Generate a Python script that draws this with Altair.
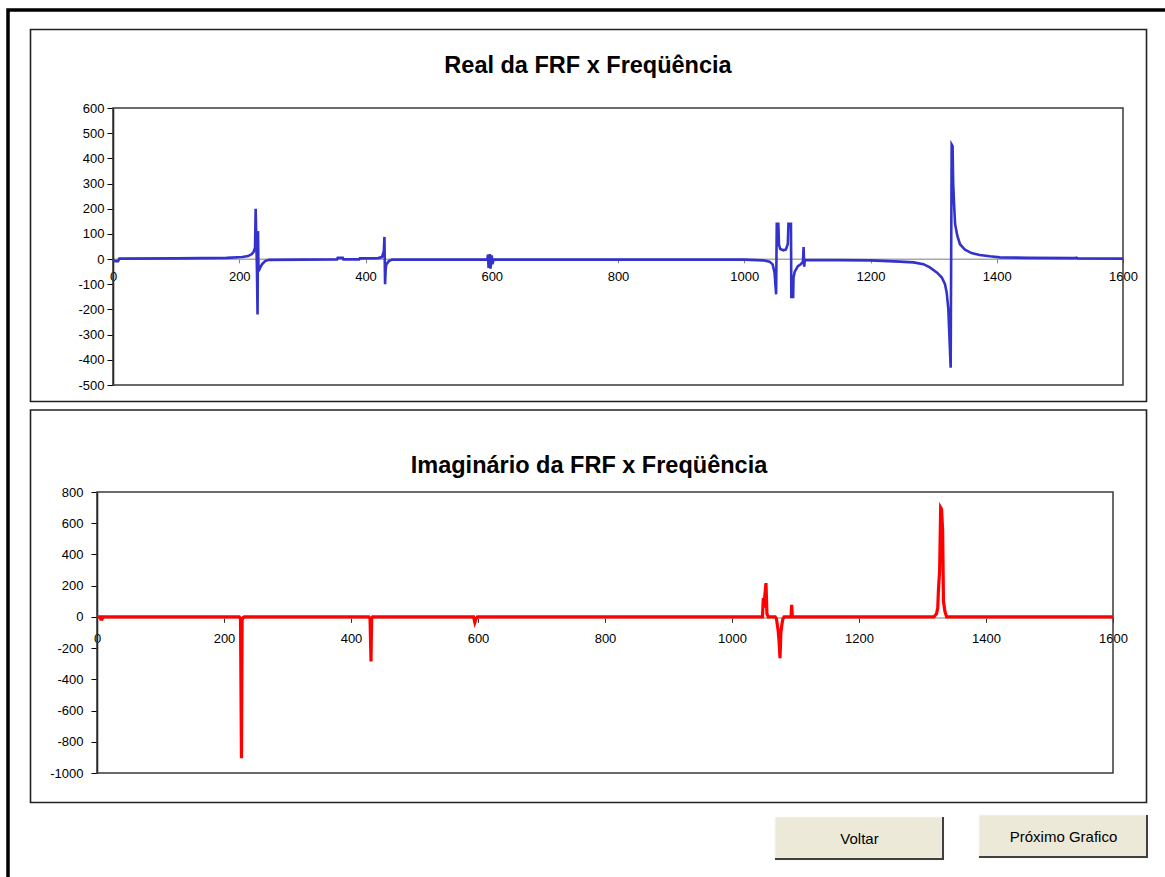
import altair as alt
import pandas as pd

# ---------------- data ----------------
real_freq = [0, 3, 8, 10, 100, 180, 205, 214, 220, 223, 225, 226, 227, 228, 229, 229.7, 230.5,
             233, 236, 241, 247, 300, 355, 356, 364, 365, 390, 391, 420, 426, 429, 430, 431,
             432, 433, 437, 442, 593, 594, 595, 597, 598, 600, 601, 603, 1000, 1030, 1040,
             1045, 1048, 1050.5, 1051.5, 1054, 1055, 1057, 1062, 1066, 1069, 1070, 1074,
             1074.6, 1077.5, 1078, 1080, 1085, 1090, 1093, 1094, 1095, 1096, 1200, 1247,
             1268, 1284, 1294, 1305, 1313, 1318, 1320.7, 1323.3, 1325, 1327, 1328.6, 1330,
             1331, 1332.3, 1334, 1337.6, 1341.8, 1349.7, 1360, 1373, 1389, 1405, 1450, 1524,
             1526, 1528, 1600]
real_vals = [-4, -8, -8, 2, 3, 5, 8, 12, 20, 30, 45, 200, 80, -40, -220, 111, -48,
             -35, -21, -8, -3, -2, -1, 5, 5, -1, -1, 3, 4, 8, 30, 88, -100,
             -40, -21, -8, -2, -2, 18, -35, 20, -38, 15, -20, -2, -2, -5, -10,
             -21, -54, -140, 140, 140, 58, 40, 35, 38, 60, 140, 140,
             -150, -150, -74, -50, -28, -20, -10, 48, -30, -3, -5, -10,
             -13, -20, -33, -53, -73, -100, -133, -199, -305, -431, 455, 449,
             300, 224, 139, 92, 59, 37, 24, 16, 11, 7, 5, 4,
             6, 3, 2]

imag_freq = [0, 5, 6, 8, 9, 224, 226, 227.5, 228.5, 230, 232, 428, 430, 431.5, 432.5, 434,
             593, 595, 597, 599, 1048, 1049.3, 1050, 1053.5, 1055, 1057, 1068, 1070, 1072.9,
             1074, 1075.6, 1077, 1078.5, 1080, 1082, 1093, 1094, 1095, 1318, 1322, 1324,
             1325, 1327, 1328.6, 1330, 1331.7, 1333, 1335.4, 1338, 1600]
imag_vals = [0, 0, -15, -15, 0, 0, -10, -905, -20, -5, 0, 0, -10, -286, -10, 0,
             0, -35, -10, 0, 0, 120, 60, 216, 20, 0, 0, -12, -94,
             -150, -265, -100, -51, -15, 0, 0, 77, 0, 0, 20, 56,
             162, 300, 700, 690, 557, 100, 34, 0, 0]

x_ticks = [0, 200, 400, 600, 800, 1000, 1200, 1400, 1600]
real_y_ticks = [-500, -400, -300, -200, -100, 0, 100, 200, 300, 400, 500, 600]
imag_y_ticks = [-1000, -800, -600, -400, -200, 0, 200, 400, 600, 800]

title_real = "Real da FRF x Freqüência"
title_imag = "Imaginário da FRF x Freqüência"
button_labels = ["Voltar", "Próximo Grafico"]

# ---------------- chart ----------------
W, H = 1165, 877
FONT = "Liberation Sans"
one = pd.DataFrame({"k": [0]})

real_df = pd.DataFrame({"f": real_freq, "v": real_vals})
imag_df = pd.DataFrame({"f": imag_freq, "v": imag_vals})

# panel geometry (pixels)
TOP = dict(x0=113, x1=1123, y0=108, y1=385, zero=258.8)
BOT = dict(x0=97, x1=1113, y0=492, y1=773, zero=617.4)


def deco_rect(x, x2, y, y2, **kw):
    return alt.Chart(one).mark_rect(**kw).encode(
        x=alt.value(x), x2=alt.value(x2), y=alt.value(y), y2=alt.value(y2))


def deco_text(x, y, text, **kw):
    return alt.Chart(one).mark_text(**kw).encode(
        x=alt.value(x), y=alt.value(y), text=alt.value(text))


# outer frame + panel boxes
outer = deco_rect(8, 1200, 10, 900, fill="transparent", stroke="#000000", strokeWidth=3.5)
box_top = deco_rect(30.5, 1146.5, 29.5, 401.5, fill="transparent", stroke="#222222", strokeWidth=1.6)
box_bot = deco_rect(30.5, 1146.5, 410, 802.5, fill="transparent", stroke="#222222", strokeWidth=1.6)
frame_top = deco_rect(TOP["x0"], TOP["x1"], TOP["y0"], TOP["y1"], fill="transparent",
                      stroke="#3a3a3a", strokeWidth=1.5)
frame_bot = deco_rect(BOT["x0"], BOT["x1"], BOT["y0"], BOT["y1"], fill="transparent",
                      stroke="#3a3a3a", strokeWidth=1.5)

t_top = deco_text(588, 66, title_real, font=FONT, fontSize=23.5, fontWeight="bold",
                  color="#000000", align="center", baseline="middle")
t_bot = deco_text(589, 466, title_imag, font=FONT, fontSize=23.5, fontWeight="bold",
                  color="#000000", align="center", baseline="middle")

# buttons
def button(x0, x1, y0, y1, label):
    face = deco_rect(x0, x1, y0, y1, fill="#ECE9D8", stroke="#F8F8F4", strokeWidth=1)
    right = deco_rect(x1 - 2, x1, y0, y1, fill="#404040")
    bottom = deco_rect(x0, x1, y1 - 2, y1, fill="#404040")
    txt = deco_text((x0 + x1) / 2, (y0 + y1) / 2, label, font=FONT, fontSize=15,
                    color="#000000", align="center", baseline="middle")
    return [face, right, bottom, txt]

btn = button(775, 944, 817, 860, button_labels[0]) + button(979, 1148, 815, 858, button_labels[1])

axis_common = dict(grid=False, title=None, labelFont=FONT, labelFontSize=13,
                   labelColor="#000000", labelExpr="'' + datum.value")

top_line = alt.Chart(real_df).mark_line(color="#3333CC", strokeWidth=2.6).encode(
    x=alt.X("f:Q",
            scale=alt.Scale(domain=[0, 1600], range=[TOP["x0"], TOP["x1"]], nice=False, zero=False),
            axis=alt.Axis(values=x_ticks, orient="bottom", offset=-(H - TOP["zero"]),
                          labelFlush=False, labelOverlap=False, tickSize=4, labelPadding=8,
                          domainColor="#A8A8A8", domainWidth=1.5, tickColor="#808080",
                          **axis_common)),
    y=alt.Y("v:Q",
            scale=alt.Scale(domain=[-500, 600], range=[TOP["y1"], TOP["y0"]], nice=False, zero=False),
            axis=alt.Axis(values=real_y_ticks, orient="left", offset=-TOP["x0"],
                          tickSize=6, labelPadding=3, domainColor="#000000", domainWidth=1.5,
                          tickColor="#000000", labelOverlap=False, **axis_common)),
    order=alt.Order("f:Q"),
)

bot_line = alt.Chart(imag_df).mark_line(color="#FF0000", strokeWidth=3.2).encode(
    x=alt.X("f:Q",
            scale=alt.Scale(domain=[0, 1600], range=[BOT["x0"], BOT["x1"]], nice=False, zero=False),
            axis=alt.Axis(values=x_ticks, orient="bottom", offset=-(H - BOT["zero"]),
                          labelFlush=False, labelOverlap=False, tickSize=5, labelPadding=10,
                          domainColor="#A8A8A8", domainWidth=1.5, tickColor="#303030",
                          **axis_common)),
    y=alt.Y("v:Q",
            scale=alt.Scale(domain=[-1000, 800], range=[BOT["y1"], BOT["y0"]], nice=False, zero=False),
            axis=alt.Axis(values=imag_y_ticks, orient="left", offset=-BOT["x0"],
                          tickSize=6, labelPadding=8, domainColor="#000000", domainWidth=1.5,
                          tickColor="#000000", labelOverlap=False, **axis_common)),
    order=alt.Order("f:Q"),
)

chart = alt.layer(
    outer, box_top, box_bot, frame_top, frame_bot, t_top, t_bot, *btn, top_line, bot_line
).resolve_scale(x="independent", y="independent").properties(
    width=W, height=H, autosize=alt.AutoSizeParams(type="none"), padding=0,
    background="#FFFFFF",
).configure_view(stroke="transparent")

chart.save("out.html", embed_options={"renderer": "svg", "actions": False})
